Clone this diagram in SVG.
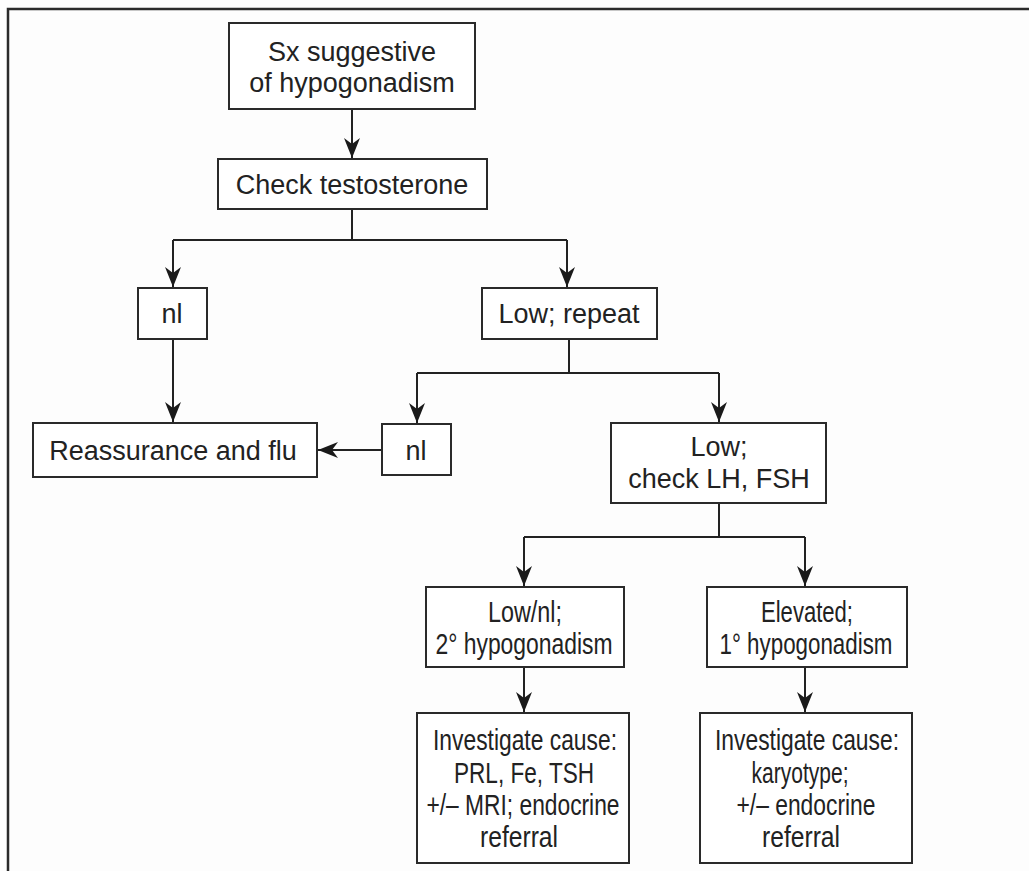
<svg xmlns="http://www.w3.org/2000/svg" width="1029" height="871" viewBox="0 0 1029 871">
  <style>
    .box { fill: #ffffff; stroke: #2a2a2a; stroke-width: 2; }
    .wire { fill: none; stroke: #222222; stroke-width: 2; }
    .t { font-family: "Liberation Sans", Arial, sans-serif; font-size: 27px; fill: #222222; text-anchor: middle; }
    .n { font-family: "Liberation Sans", Arial, sans-serif; font-size: 29px; fill: #222222; text-anchor: middle; }
  </style>
  <defs>
    <marker id="arrow" markerUnits="userSpaceOnUse" markerWidth="24" markerHeight="24" viewBox="-22 -10 24 20" refX="0" refY="0" orient="auto">
      <path d="M0,0 L-20,-8 L-14,0 L-20,8 Z" fill="#1a1a1a"/>
    </marker>
  </defs>

  <rect width="1029" height="871" fill="#fdfdfd"/>

  <!-- outer frame: top and left edges only -->
  <g id="frame">
    <path d="M8,871 L8,9 L1029,9" fill="none" stroke="#2a2a2a" stroke-width="2.5"/>
  </g>

  <!-- connectors -->
  <g id="connectors">
    <path class="wire" d="M352,109 L352,158" marker-end="url(#arrow)"/>
    <path class="wire" d="M352,209 L352,240 M173,240 L567,240"/>
    <path class="wire" d="M173,240 L173,287" marker-end="url(#arrow)"/>
    <path class="wire" d="M567,240 L567,287" marker-end="url(#arrow)"/>
    <path class="wire" d="M173,339 L173,422" marker-end="url(#arrow)"/>
    <path class="wire" d="M569,339 L569,373 M417,373 L719,373"/>
    <path class="wire" d="M417,373 L417,423" marker-end="url(#arrow)"/>
    <path class="wire" d="M719,373 L719,422" marker-end="url(#arrow)"/>
    <path class="wire" d="M382,450 L318,450" marker-end="url(#arrow)"/>
    <path class="wire" d="M719,503 L719,537 M524,537 L805,537"/>
    <path class="wire" d="M524,537 L524,586" marker-end="url(#arrow)"/>
    <path class="wire" d="M805,537 L805,586" marker-end="url(#arrow)"/>
    <path class="wire" d="M524,667 L524,712" marker-end="url(#arrow)"/>
    <path class="wire" d="M805,667 L805,712" marker-end="url(#arrow)"/>
  </g>

  <g id="symptoms">
    <rect class="box" x="229" y="23" width="246" height="86"/>
    <text class="t" x="352" y="61">Sx suggestive</text>
    <text class="t" x="352" y="92">of hypogonadism</text>
  </g>

  <g id="check-testosterone">
    <rect class="box" x="218" y="159" width="269" height="50"/>
    <text class="t" x="352" y="194">Check testosterone</text>
  </g>

  <g id="normal-first">
    <rect class="box" x="138" y="288" width="69" height="51"/>
    <text class="t" x="172" y="323">nl</text>
  </g>

  <g id="low-repeat">
    <rect class="box" x="482" y="288" width="175" height="51"/>
    <text class="t" x="569" y="323">Low; repeat</text>
  </g>

  <g id="reassurance">
    <rect class="box" x="33" y="423" width="284" height="54"/>
    <text class="t" x="173" y="460">Reassurance and flu</text>
  </g>

  <g id="normal-repeat">
    <rect class="box" x="382" y="424" width="69" height="51"/>
    <text class="t" x="416" y="460">nl</text>
  </g>

  <g id="low-check-lh-fsh">
    <rect class="box" x="611" y="423" width="215" height="80"/>
    <text class="t" x="719" y="456">Low;</text>
    <text class="t" x="719" y="488">check LH, FSH</text>
  </g>

  <g id="secondary">
    <rect class="box" x="426" y="587" width="198" height="80"/>
    <text class="n" x="525" y="622" textLength="74" lengthAdjust="spacingAndGlyphs">Low/nl;</text>
    <text class="n" x="524" y="654" textLength="177" lengthAdjust="spacingAndGlyphs">2° hypogonadism</text>
  </g>

  <g id="primary">
    <rect class="box" x="707" y="587" width="200" height="80"/>
    <text class="n" x="807" y="622" textLength="92" lengthAdjust="spacingAndGlyphs">Elevated;</text>
    <text class="n" x="806" y="654" textLength="173" lengthAdjust="spacingAndGlyphs">1° hypogonadism</text>
  </g>

  <g id="investigate-secondary">
    <rect class="box" x="417" y="713" width="212" height="150"/>
    <text class="n" x="525" y="750" textLength="184" lengthAdjust="spacingAndGlyphs">Investigate cause:</text>
    <text class="n" x="524" y="783" textLength="140" lengthAdjust="spacingAndGlyphs">PRL, Fe, TSH</text>
    <text class="n" x="523" y="815" textLength="193" lengthAdjust="spacingAndGlyphs">+/– MRI; endocrine</text>
    <text class="n" x="519" y="847" textLength="78" lengthAdjust="spacingAndGlyphs">referral</text>
  </g>

  <g id="investigate-primary">
    <rect class="box" x="700" y="713" width="212" height="150"/>
    <text class="n" x="807" y="750" textLength="184" lengthAdjust="spacingAndGlyphs">Investigate cause:</text>
    <text class="n" x="800" y="783" textLength="97" lengthAdjust="spacingAndGlyphs">karyotype;</text>
    <text class="n" x="806" y="815" textLength="139" lengthAdjust="spacingAndGlyphs">+/– endocrine</text>
    <text class="n" x="801" y="847" textLength="78" lengthAdjust="spacingAndGlyphs">referral</text>
  </g>
</svg>
